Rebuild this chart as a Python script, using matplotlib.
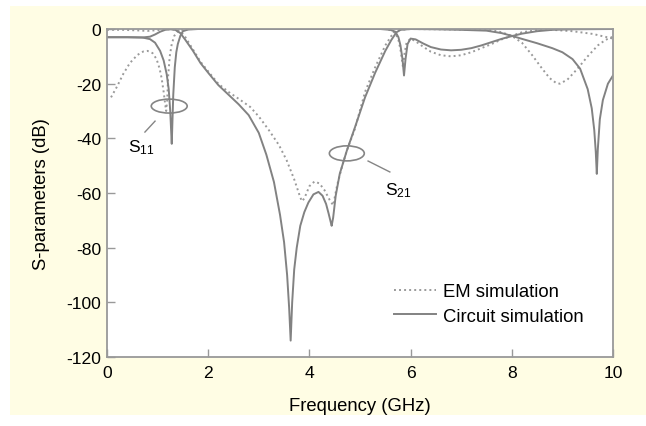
import matplotlib
matplotlib.use("Agg")
import matplotlib.pyplot as plt
from matplotlib.patches import Ellipse, Rectangle

plt.rcParams['font.family'] = ['Liberation Sans', 'DejaVu Sans']
plt.rcParams['mathtext.fontset'] = 'custom'
plt.rcParams['mathtext.rm'] = 'Liberation Sans'
plt.rcParams['axes.unicode_minus'] = False

# circuit simulation, S21
f_c21 = [0, 0.4, 0.7, 0.85, 0.95, 1.05, 1.15, 1.25, 1.35, 1.45, 1.55, 1.7, 1.85, 2.0, 2.2,
         2.4, 2.6, 2.8, 3.0, 3.15, 3.3, 3.42, 3.5, 3.56, 3.6, 3.63, 3.66, 3.7, 3.75, 3.82,
         3.9, 3.98, 4.08, 4.18, 4.26, 4.33, 4.38, 4.42, 4.44, 4.47, 4.52, 4.6, 4.74, 4.9,
         5.1, 5.3, 5.5, 5.62, 5.72, 5.8, 6.0, 6.5, 7.0, 7.5, 7.8, 8.0, 8.2, 8.5, 8.8, 9.0,
         9.2, 9.35, 9.5, 9.58, 9.63, 9.66, 9.68, 9.70, 9.74, 9.8, 9.9, 10.0]
s21_c = [-3.0, -3.0, -3.1, -2.8, -2.0, -1.0, -0.3, -0.1, -0.3, -1.5, -4.0, -8.0, -12.5, -16.0, -20.5,
         -24.0, -27.5, -31.5, -38.0, -46.0, -56.0, -68.0, -78.0, -90.0, -102.0, -114.0, -100.0, -88.0, -80.0, -72.0,
         -67.0, -63.5, -60.5, -59.6, -61.0, -64.0, -67.5, -70.5, -72.0, -69.0, -61.0, -53.0, -44.5, -36.0,
         -25.0, -16.0, -8.0, -4.0, -1.2, -0.3, 0.0, -0.1, -0.3, -0.6, -1.5, -2.5, -3.6, -5.2, -7.0, -8.5,
         -11.0, -14.5, -22.0, -29.0, -37.0, -45.0, -53.0, -44.0, -33.0, -26.0, -20.0, -17.0]

# circuit simulation, S11
f_c11 = [0, 0.4, 0.7, 0.85, 0.95, 1.05, 1.12, 1.18, 1.22, 1.25, 1.27, 1.28, 1.29, 1.31, 1.34,
         1.37, 1.4, 1.45, 1.5, 1.6, 1.8, 5.4, 5.6, 5.7, 5.76, 5.8, 5.84, 5.87, 5.9, 5.94,
         6.0, 6.1, 6.25, 6.4, 6.6, 6.8, 7.0, 7.2, 7.4, 7.6, 7.8, 8.0, 8.2, 8.5, 8.8, 9.2, 10.0]
s11_c = [-3.0, -3.0, -3.1, -3.7, -5.0, -8.0, -11.5, -16.5, -22.0, -30.0, -38.0, -42.0, -36.0, -24.0, -14.0,
         -8.5, -5.5, -2.5, -0.8, -0.2, 0.0, 0.0, -0.3, -1.0, -3.0, -6.0, -11.0, -17.0, -11.0, -5.5,
         -3.5, -3.8, -5.3, -6.6, -7.5, -7.8, -7.6, -7.0, -6.0, -4.8, -3.6, -2.6, -1.7, -0.8, -0.3, -0.1, 0.0]

# EM simulation, S21
f_e21 = [0, 0.3, 0.6, 0.8, 1.0, 1.2, 1.35, 1.45, 1.55, 1.7, 1.85, 2.0, 2.2, 2.4, 2.6,
         2.83, 3.0, 3.2, 3.4, 3.55, 3.7, 3.8, 3.85, 3.9, 4.0, 4.1, 4.2, 4.3, 4.4, 4.47,
         4.55, 4.65, 4.74, 4.9, 5.1, 5.3, 5.5, 5.62, 5.72, 5.8, 6.0, 7.0, 7.6, 7.8, 8.0,
         8.2, 8.4, 8.6, 8.75, 8.88, 8.95, 9.1, 9.3, 9.5, 9.7, 9.85, 10.0]
s21_e = [-0.3, -0.3, -0.5, -0.7, -0.4, -0.1, -0.2, -0.8, -3.0, -7.5, -12.0, -15.5, -20.0, -23.0, -25.5,
         -28.5, -32.0, -37.0, -42.5, -48.0, -55.0, -60.5, -63.0, -62.0, -57.5, -55.8, -56.5, -59.0, -62.5, -64.5,
         -57.0, -50.0, -44.5, -36.5, -23.0, -14.0, -6.0, -2.5, -0.8, -0.3, 0.0, -0.2, -0.4, -1.2, -2.5,
         -5.0, -9.5, -14.5, -18.0, -19.8, -20.0, -18.5, -14.5, -10.0, -6.0, -4.0, -2.8]

# EM simulation, S11
f_e11 = [0.08, 0.2, 0.32, 0.45, 0.6, 0.72, 0.8, 0.9, 0.98, 1.04, 1.08, 1.12, 1.15, 1.17, 1.19,
         1.21, 1.24, 1.28, 1.33, 1.4, 1.5, 1.7, 5.5, 5.62, 5.7, 5.76, 5.8, 5.85, 5.88, 5.92,
         6.0, 6.1, 6.25, 6.4, 6.6, 6.8, 7.0, 7.2, 7.4, 7.6, 7.8, 8.0, 8.2, 8.5, 8.8, 9.2,
         9.6, 10.0]
s11_e = [-25.0, -21.0, -16.5, -12.5, -9.5, -8.2, -8.0, -8.8, -11.0, -14.5, -18.0, -23.0, -27.5, -30.0, -26.0,
         -17.0, -10.0, -5.5, -2.5, -0.8, -0.2, 0.0, 0.0, -0.5, -1.5, -4.0, -7.5, -14.0, -9.0, -5.0,
         -3.5, -4.5, -6.5, -8.3, -9.6, -10.0, -9.6, -8.5, -7.0, -5.5, -3.8, -2.5, -1.2, -0.4, -0.3, -0.8,
         -1.8, -3.5]

xticks = [0, 2, 4, 6, 8, 10]
yticks = [-120, -100, -80, -60, -40, -20, 0]

fig = plt.figure(figsize=(6.46, 4.27), dpi=100)
fig.patches.append(Rectangle((0.0155, 0.0258), 0.99, 0.958, transform=fig.transFigure,
                             facecolor='#fffde4', edgecolor='none', zorder=-10))
ax = fig.add_axes([0.1656, 0.1616, 0.7833, 0.7681])
ax.set_facecolor('white')

dot = dict(color='#9a9a9a', lw=1.4, linestyle=(0, (1, 1.6)))
sol = dict(color='#828282', lw=1.4)
ax.plot(f_e21, s21_e, **dot, label='EM simulation')
ax.plot(f_e11, s11_e, **dot)
ax.plot(f_c21, s21_c, **sol, label='Circuit simulation')
ax.plot(f_c11, s11_c, **sol)

# annotations
ax.add_patch(Ellipse((1.23, -28.2), 0.71, 5.1, fill=False, edgecolor='#858585', lw=1.2))
ax.plot([0.95, 0.75], [-33.7, -37.7], color='#858585', lw=1.0)
ax.text(0.415, -44.6, r'$\mathregular{S_{11}}$', fontsize=12.5, va='baseline', ha='left')
ax.add_patch(Ellipse((4.74, -45.5), 0.69, 5.5, fill=False, edgecolor='#858585', lw=1.2))
ax.plot([5.16, 5.59], [-48.3, -52.3], color='#858585', lw=1.0)
ax.text(5.49, -60.4, r'$\mathregular{S_{21}}$', fontsize=12.5, va='baseline', ha='left')

ax.set_xlim(0, 10)
ax.set_ylim(-120, 0)
ax.set_xticks(xticks)
ax.set_yticks(yticks)
ax.tick_params(direction='in', length=6, width=1, color='#999999', labelsize=12.6)
ax.tick_params(axis='x', pad=6)
ax.tick_params(axis='y', pad=4)
for s in ax.spines.values():
    s.set_color('#999999')
    s.set_linewidth(1.3)

ax.set_xlabel('Frequency (GHz)', fontsize=13.3, labelpad=12)
ax.set_ylabel('S-parameters (dB)', fontsize=13.3, labelpad=12)

ax.legend(loc='upper left', bbox_to_anchor=(0.567, 0.225), frameon=False, fontsize=13.3,
          handlelength=2.3, handletextpad=0.38, borderpad=0, borderaxespad=0, labelspacing=0.4)

fig.savefig('out.png', dpi=100)
